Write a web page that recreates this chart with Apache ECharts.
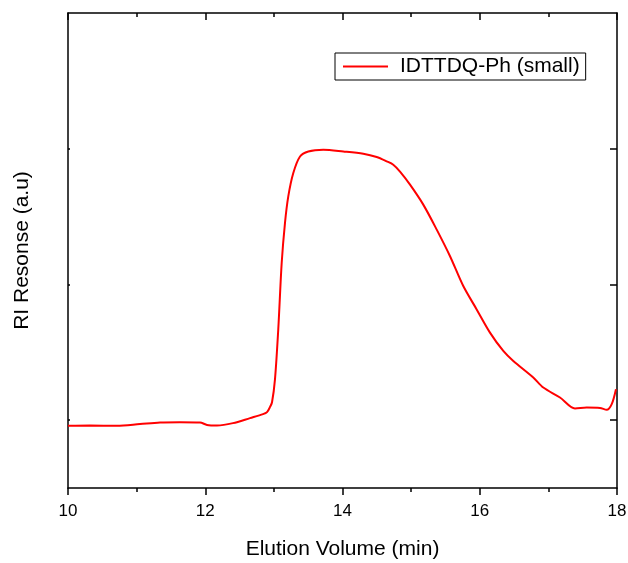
<!DOCTYPE html>
<html>
<head>
<meta charset="utf-8">
<script src="https://cdn.jsdelivr.net/npm/echarts@6/dist/echarts.min.js"></script>
<style>html,body{margin:0;padding:0;background:#fff}#c{width:628px;height:563px}</style>
</head>
<body>
<div id="c"></div>
<script>
const seriesName = 'IDTTDQ-Ph (small)';
const elution = [10.000,10.32,10.714,11.049,11.341,11.632,11.923,12.026,12.171,12.404,12.652,12.842,12.90,12.943,12.973,13.016,13.064,13.114,13.162,13.210,13.283,13.381,13.502,13.720,14.012,14.303,14.498,14.644,14.740,14.838,14.984,15.177,15.373,15.567,15.760,15.955,16.149,16.343,16.489,16.780,16.926,17.169,17.388,17.558,17.752,17.850,17.923,17.985];
const response = [0.958,0.960,0.958,0.971,0.983,0.985,0.983,0.965,0.961,0.978,1.015,1.044,1.059,1.096,1.132,1.301,1.669,2.160,2.454,2.649,2.821,2.943,2.980,2.993,2.980,2.963,2.939,2.907,2.882,2.831,2.735,2.588,2.404,2.208,1.988,1.816,1.645,1.510,1.436,1.314,1.240,1.167,1.086,1.093,1.090,1.076,1.118,1.228];
const yTicks = [1, 2, 3];

const font = 'Liberation Sans, Arial, sans-serif';
const axisLine = {show: true, lineStyle: {color: '#000', width: 1.5}};
const chart = echarts.init(document.getElementById('c'));
chart.setOption({
  animation: false,
  backgroundColor: '#fff',
  grid: {left: 68, right: 11, top: 13, bottom: 75, containLabel: false, outerBoundsMode: 'none'},
  legend: {
    left: 335, top: 53,
    padding: [3, 6, 3, 8],
    borderColor: '#000', borderWidth: 1, borderRadius: 0,
    icon: 'rect',
    itemWidth: 45, itemHeight: 2,
    itemGap: 10,
    textStyle: {fontFamily: font, fontSize: 21, color: '#000', padding: [0, 0, 0, 7]},
    data: [seriesName]
  },
  xAxis: [{
    type: 'value', min: 10, max: 18, interval: 2, position: 'bottom',
    axisLine: axisLine,
    axisTick: {show: true, inside: false, length: 7, lineStyle: {color: '#000', width: 1.5}},
    minorTick: {show: true, splitNumber: 2, length: 4, lineStyle: {color: '#000', width: 1.5}},
    splitLine: {show: false},
    axisLabel: {color: '#000', fontFamily: font, fontSize: 17, margin: 15},
    name: 'Elution Volume (min)', nameLocation: 'middle', nameGap: 51,
    nameTextStyle: {color: '#000', fontFamily: font, fontSize: 21}
  }, {
    type: 'value', min: 10, max: 18, interval: 2, position: 'top',
    axisLine: axisLine,
    axisTick: {show: true, inside: true, length: 7, lineStyle: {color: '#000', width: 1.5}},
    minorTick: {show: true, splitNumber: 2, length: 4, lineStyle: {color: '#000', width: 1.5}},
    splitLine: {show: false},
    axisLabel: {show: false}
  }],
  yAxis: [{
    type: 'value', min: 0.5, max: 4, position: 'left',
    axisLine: axisLine,
    axisTick: {show: true, inside: true, length: 2, customValues: yTicks, lineStyle: {color: '#000', width: 1.5}},
    splitLine: {show: false},
    axisLabel: {show: false},
    name: 'RI Resonse (a.u)', nameLocation: 'middle', nameGap: 35, nameRotate: 90,
    nameTextStyle: {color: '#000', fontFamily: font, fontSize: 21}
  }, {
    type: 'value', min: 0.5, max: 4, position: 'right',
    axisLine: axisLine,
    axisTick: {show: true, inside: true, length: 7, customValues: yTicks, lineStyle: {color: '#000', width: 1.5}},
    splitLine: {show: false},
    axisLabel: {show: false}
  }],
  series: [{
    name: seriesName,
    type: 'line',
    xAxisIndex: 0, yAxisIndex: 0,
    data: elution.map((x, i) => [x, response[i]]),
    symbol: 'none',
    smooth: 0.3,
    lineStyle: {color: '#ff0000', width: 2},
    itemStyle: {color: '#ff0000'}
  }]
});
</script>
</body>
</html>
